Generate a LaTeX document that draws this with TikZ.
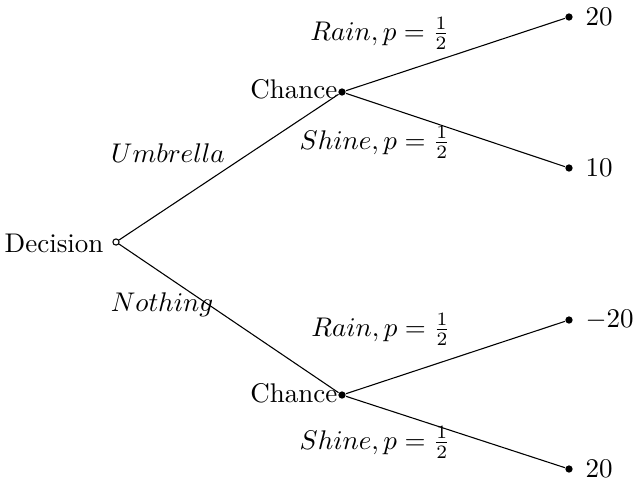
\documentclass[tikz,border=0pt]{standalone}
\begin{document}
\begin{tikzpicture}[x=1pt/2.7, y=-1pt/2.7,
  opendot/.style={circle, draw, fill=white, inner sep=0pt, minimum size=2.3pt, line width=0.4pt},
  dot/.style={circle, fill=black, inner sep=0pt, minimum size=2.7pt},
  branch/.style={line width=0.4pt},
  lbl/.style={inner sep=0pt, anchor=base},
  leaflbl/.style={anchor=west, inner sep=0pt}]
\useasboundingbox (0,0) rectangle (633,481);
% nodes
\node[opendot] (d) at (116,242) {};
\node[dot] (c1) at (342,92) {};
\node[dot] (c2) at (342,395) {};
\node[dot] (l1) at (569,17) {};
\node[dot] (l2) at (569,168) {};
\node[dot] (l3) at (569,320) {};
\node[dot] (l4) at (569,469) {};
% connectors
\draw[branch] (d) -- (c1);
\draw[branch] (d) -- (c2);
\draw[branch] (c1) -- (l1);
\draw[branch] (c1) -- (l2);
\draw[branch] (c2) -- (l3);
\draw[branch] (c2) -- (l4);
% node texts
\node[inner sep=0pt, anchor=base east] (td) at (104,252) {Decision};
\node[inner sep=0pt, anchor=base east] (tc1) at (338,98) {Chance};
\node[inner sep=0pt, anchor=base east] (tc2) at (338,402) {Chance};
% branch labels
\node[lbl] (umb) at (168,162) {$Umbrella$};
\node[lbl] (not) at (162,311) {$Nothing$};
\node[lbl] (r1) at (380,40) {$Rain, p=\frac{1}{2}$};
\node[lbl] (s1) at (375,149) {$Shine, p=\frac{1}{2}$};
\node[lbl] (r2) at (381,336) {$Rain, p=\frac{1}{2}$};
\node[lbl] (s2) at (375,449) {$Shine, p=\frac{1}{2}$};
% leaf values
\node[leaflbl] (v1) at ([xshift=4.4pt]l1.east) {$20$};
\node[leaflbl] (v2) at ([xshift=4.4pt]l2.east) {$10$};
\node[leaflbl] (v3) at ([xshift=4.4pt]l3.east) {$-20$};
\node[leaflbl] (v4) at ([xshift=4.4pt]l4.east) {$20$};
\end{tikzpicture}
\end{document}
